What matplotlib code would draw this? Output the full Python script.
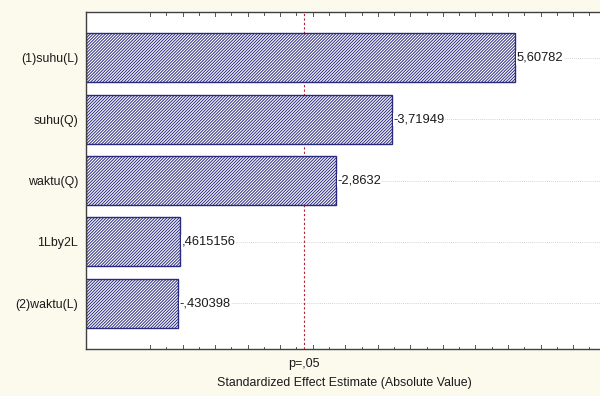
import numpy as np
import matplotlib
matplotlib.use("Agg")
import matplotlib.pyplot as plt

# efek terstandarisasi (Pareto chart)
faktor = ["(1)suhu(L)", "suhu(Q)", "waktu(Q)", "1Lby2L", "(2)waktu(L)"]
efek = [5.60782, -3.71949, -2.8632, 0.4615156, -0.430398]
t_kritis = 2.365
label_p = "p=,05"

plt.rcParams['font.family'] = ['Liberation Sans', 'DejaVu Sans']
plt.rcParams['hatch.linewidth'] = 0.7
plt.rcParams['hatch.color'] = '#2e2e82'


def fmt(v):
    # gaya Statistica: koma desimal, tanpa nol di depan
    s = str(v)
    s = s.replace("0.", ".", 1) if s.lstrip("-").startswith("0.") else s
    return s.replace(".", ",")


fig = plt.figure(figsize=(6, 3.96), dpi=100, facecolor='#fcf9ed')
ax = fig.add_axes([0.144, 0.118, 0.86, 0.852])
ax.set_facecolor('white')

x0, x1 = -0.977, 6.95
y = np.arange(len(faktor))
nilai = np.abs(efek)

for yi in y:
    ax.axhline(yi, color='#c4c4c4', lw=0.6, ls=(0, (1, 1.5)), zorder=0)

ax.barh(y, nilai - x0, left=x0, height=0.8, color='white',
        edgecolor='#2a2a80', hatch='/' * 11, lw=1.0, zorder=2)

for yi, v, e in zip(y, nilai, efek):
    ax.text(v + 0.02, yi, fmt(e), va='center', ha='left', fontsize=9.3,
            color='#1a1a1a', zorder=3,
            bbox=dict(fc='white', ec='none', pad=0.5))

ax.axvline(t_kritis, color='#b02030', lw=0.8, ls=(0, (2, 2)), zorder=1)

ax.set_xlim(x0, x1)
ax.set_ylim(len(faktor) - 0.25, -0.75)
ax.set_yticks(y)
ax.set_yticklabels(faktor, fontsize=8.9, color='#1a1a1a')
ax.set_xticks([t_kritis])
ax.set_xticklabels([label_p], fontsize=9, color='#1a1a1a')
ax.tick_params(axis='x', length=0, pad=6)
ax.tick_params(axis='y', direction='in', length=2, color='#555555', pad=6)

# tick kecil di atas dan bawah
for k in np.arange(0, x1, 0.25):
    h = 0.012 if k % 0.5 == 0 else 0.008
    ax.plot([k, k], [0, h], transform=ax.get_xaxis_transform(),
            color='#555555', lw=0.7, clip_on=False)
    ax.plot([k, k], [1, 1 - h], transform=ax.get_xaxis_transform(),
            color='#555555', lw=0.7, clip_on=False)

ax.set_xlabel("Standardized Effect Estimate (Absolute Value)", fontsize=8.9,
              color='#1a1a1a', labelpad=5)

for s in ['top', 'bottom', 'left']:
    ax.spines[s].set_color('#404040')
    ax.spines[s].set_linewidth(1.0)
ax.spines['right'].set_visible(False)

fig.savefig("out.png", dpi=100, facecolor=fig.get_facecolor())
